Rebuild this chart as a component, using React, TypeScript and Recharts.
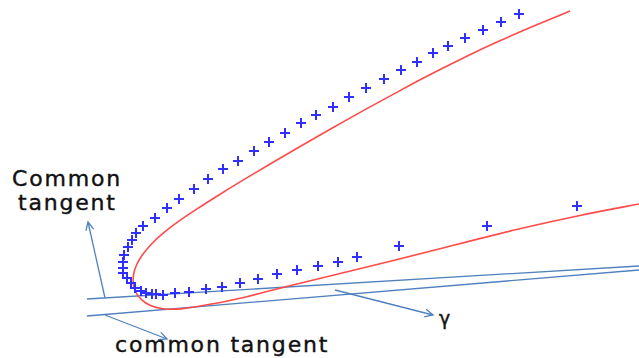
import { ComposedChart, Line, Scatter, XAxis, YAxis, ReferenceLine, ReferenceDot } from 'recharts';

// all values are in picture units: x to the right, y downwards
const measuredPoints = [
  { x: 519, y: 14 }, { x: 501, y: 22 }, { x: 483, y: 30 }, { x: 465, y: 38 },
  { x: 448, y: 46 }, { x: 433, y: 53 }, { x: 417, y: 62 }, { x: 401, y: 70 },
  { x: 384, y: 79 }, { x: 366, y: 88 }, { x: 349, y: 97 }, { x: 333, y: 107 },
  { x: 316, y: 115 }, { x: 301, y: 123 }, { x: 285, y: 133 }, { x: 269, y: 142 },
  { x: 254, y: 151 }, { x: 238, y: 161 }, { x: 223, y: 169 }, { x: 208, y: 179 },
  { x: 194, y: 189 }, { x: 179, y: 199 }, { x: 167, y: 208 }, { x: 155, y: 218 },
  { x: 143, y: 226 }, { x: 136, y: 233 }, { x: 132, y: 240 }, { x: 128, y: 247 },
  { x: 124, y: 255 }, { x: 123, y: 262 }, { x: 123, y: 268 }, { x: 123, y: 273 },
  { x: 127, y: 278 }, { x: 131, y: 283 }, { x: 135, y: 288 }, { x: 141, y: 291 },
  { x: 146, y: 293 }, { x: 152, y: 294 }, { x: 156, y: 294 }, { x: 163, y: 295 },
  { x: 175, y: 293 }, { x: 189, y: 292 }, { x: 206, y: 289 }, { x: 222, y: 287 },
  { x: 240, y: 283 }, { x: 258, y: 279 }, { x: 277, y: 274 }, { x: 297, y: 270 },
  { x: 318, y: 266 }, { x: 338, y: 262 }, { x: 357, y: 257 }, { x: 399, y: 246 },
  { x: 487, y: 226 }, { x: 577, y: 206 },
];

const modelCurve = [
  { x: 570, y: 11 }, { x: 535, y: 25.5 }, { x: 500, y: 40.5 }, { x: 467, y: 56 },
  { x: 433, y: 73 }, { x: 400, y: 90.5 }, { x: 367, y: 108.5 }, { x: 333, y: 127.5 },
  { x: 300, y: 146.5 }, { x: 270, y: 164 }, { x: 243, y: 180 }, { x: 218, y: 195.5 },
  { x: 196, y: 209.5 }, { x: 178, y: 221.5 }, { x: 163, y: 233 }, { x: 151, y: 244 },
  { x: 142, y: 255 }, { x: 136, y: 265 }, { x: 133, y: 275 }, { x: 133, y: 284 },
  { x: 135, y: 292 }, { x: 141, y: 300 }, { x: 150, y: 306 }, { x: 162, y: 309 },
  { x: 178, y: 310 }, { x: 213, y: 304 }, { x: 247, y: 297 }, { x: 280, y: 288 },
  { x: 313, y: 280 }, { x: 380, y: 264 }, { x: 447, y: 247 }, { x: 513, y: 230 },
  { x: 580, y: 215 }, { x: 639, y: 204 },
];

const upperTangent = [{ x: 87, y: 299 }, { x: 639, y: 266 }];
const lowerTangent = [{ x: 87, y: 316 }, { x: 639, y: 270 }];

const arrows = [
  { from: { x: 105, y: 298 }, to: { x: 88, y: 222 } },
  { from: { x: 105, y: 315 }, to: { x: 167, y: 339 } },
  { from: { x: 335, y: 290 }, to: { x: 433, y: 315 } },
];

const labels = [
  { text: 'Common', x: 12, y: 186, size: 22 },
  { text: 'tangent', x: 18, y: 210, size: 22 },
  { text: 'common tangent', x: 115, y: 352, size: 22 },
  { text: 'γ', x: 439, y: 325, size: 19 },
];

const LINE_BLUE = '#4f81bd';

function Plus(props: any) {
  const { cx, cy } = props;
  if (cx == null || cy == null) return null;
  return (
    <g stroke="#2f2fff" strokeWidth={2}>
      <line x1={cx - 5} y1={cy} x2={cx + 5} y2={cy} />
      <line x1={cx} y1={cy - 5} x2={cx} y2={cy + 5} />
    </g>
  );
}

function Arrow(props: any) {
  const { x1, y1, x2, y2 } = props;
  const ang = Math.atan2(y2 - y1, x2 - x1);
  const len = 9;
  const spread = 0.45;
  const ax = x2 - len * Math.cos(ang - spread);
  const ay = y2 - len * Math.sin(ang - spread);
  const bx = x2 - len * Math.cos(ang + spread);
  const by = y2 - len * Math.sin(ang + spread);
  return (
    <g stroke={LINE_BLUE} strokeWidth={1.3} fill="none">
      <line x1={x1} y1={y1} x2={x2} y2={y2} />
      <polyline points={`${ax},${ay} ${x2},${y2} ${bx},${by}`} />
    </g>
  );
}

export default function App() {
  return (
    <div style={{ position: 'absolute', left: 0, top: 0, width: 639, height: 358, background: '#fff' }}>
      <ComposedChart width={639} height={358} margin={{ top: 0, right: 0, bottom: 0, left: 0 }}>
        <XAxis dataKey="x" type="number" domain={[0, 639]} hide allowDataOverflow />
        <YAxis dataKey="y" type="number" domain={[0, 358]} reversed hide allowDataOverflow />
        <Line data={upperTangent} dataKey="y" type="linear" stroke={LINE_BLUE} strokeWidth={1.3} dot={false} activeDot={false} isAnimationActive={false} />
        <Line data={lowerTangent} dataKey="y" type="linear" stroke={LINE_BLUE} strokeWidth={1.3} dot={false} activeDot={false} isAnimationActive={false} />
        <Line data={modelCurve} dataKey="y" type="basis" stroke="#ff4a4a" strokeWidth={1.6} dot={false} activeDot={false} isAnimationActive={false} />
        <Scatter data={measuredPoints} dataKey="y" shape={<Plus />} isAnimationActive={false} />
        {arrows.map((a, i) => (
          <ReferenceLine key={`arrow-${i}`} segment={[a.from, a.to]} shape={(p: any) => <Arrow {...p} />} />
        ))}
        {labels.map((l, i) => (
          <ReferenceDot
            key={`label-${i}`}
            x={l.x}
            y={l.y}
            r={0}
            shape={(p: any) => (
              <text
                x={p.cx}
                y={p.cy}
                fontFamily="DejaVu Sans, sans-serif"
                fontSize={l.size}
                letterSpacing={l.text === 'γ' ? 0 : 1.8}
                fill="#111"
                stroke="#111"
                strokeWidth={0.4}
              >
                {l.text}
              </text>
            )}
          />
        ))}
      </ComposedChart>
    </div>
  );
}
